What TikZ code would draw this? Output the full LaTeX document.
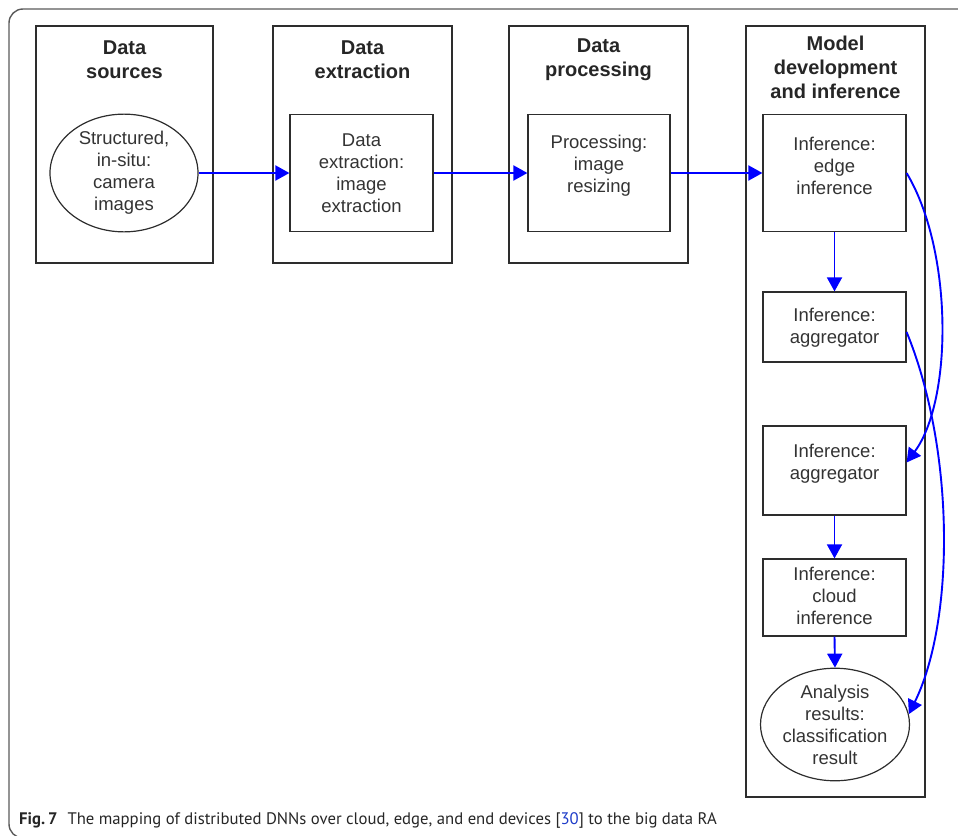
\documentclass[tikz,border=0pt]{standalone}
\usepackage{fontspec}
\setmainfont{Liberation Sans}
\newfontfamily\capfont{PT Sans}
\usetikzlibrary{arrows.meta,shapes.geometric}
\definecolor{linkblue}{RGB}{0,0,255}
\definecolor{framegray}{RGB}{90,90,90}
\definecolor{boxgray}{RGB}{45,45,45}
\definecolor{refblue}{RGB}{30,60,200}
\begin{document}
\begin{tikzpicture}[x=1pt,y=-1pt,
  column/.style={draw=boxgray,line width=1.4pt},
  coltitle/.style={font=\fontsize{20}{24}\selectfont\bfseries,align=center,text=black!85},
  stepbox/.style={draw=boxgray,line width=1.2pt,inner sep=0pt},
  steptext/.style={inner sep=0pt,align=center,font=\fontsize{18.5}{22}\selectfont,text=black!80},
  oval/.style={ellipse,draw=boxgray,line width=1.2pt,inner sep=0pt,align=center,
    font=\fontsize{18.5}{22}\selectfont,text=black!80},
  flow/.style={draw=linkblue,line width=1.9pt,-{Triangle[length=14pt,width=15pt]}}]
\useasboundingbox (0,0) rectangle (958,835);
% outer figure frame
\begin{scope}
  \clip (0,0) rectangle (958,835);
  \draw[framegray,line width=1.4pt,rounded corners=14pt] (970,9) -- (9,9) -- (9,838) -- (120,838);
\end{scope}
% columns
\draw[column] (36,26) rectangle (213,263);
\draw[column] (273,26) rectangle (452,263);
\draw[column] (509,26) rectangle (688,263);
\draw[column] (746,26) rectangle (925,797);
\node[coltitle] (t1) at (124.5,60) {Data\\sources};
\node[coltitle] (t2) at (362.5,60) {Data\\extraction};
\node[coltitle] (t3) at (598.5,60) {Data\\processing};
\node[coltitle] (t4) at (835.5,67) {Model\\development\\and inference};
% steps: boxes, then their texts
\node[oval,minimum width=148pt,minimum height=117pt] (src) at (124,173) {Structured,\\in-situ:\\camera\\images};
\node[stepbox,minimum width=143pt,minimum height=117pt] (ext) at (361.5,173) {};
\node[stepbox,minimum width=142pt,minimum height=117pt] (proc) at (599,173) {};
\node[stepbox,minimum width=143pt,minimum height=117pt] (edge) at (834.5,173) {};
\node[stepbox,minimum width=143pt,minimum height=70pt] (agg1) at (834.5,327) {};
\node[stepbox,minimum width=143pt,minimum height=89pt] (agg2) at (834.5,470.5) {};
\node[stepbox,minimum width=143pt,minimum height=77pt] (cloud) at (834.5,597.5) {};
\node[oval,minimum width=149pt,minimum height=95pt] (res) at (835,724.5) {Analysis\\results:\\classification\\result};
\node[steptext] (ext-t) at (ext.center) {Data\\extraction:\\image\\extraction};
\node[steptext] (proc-t) at ([yshift=7pt]proc.center) {Processing:\\image\\resizing};
\node[steptext] (edge-t) at ([yshift=7pt]edge.center) {Inference:\\edge\\inference};
\node[steptext] (agg1-t) at ([yshift=-1pt]agg1.center) {Inference:\\aggregator};
\node[steptext] (agg2-t) at ([yshift=7pt]agg2.center) {Inference:\\aggregator};
\node[steptext] (cloud-t) at ([yshift=2pt]cloud.center) {Inference:\\cloud\\inference};
% connectors
\draw[flow] (src.east) -- (ext.west);
\draw[flow] (ext.east) -- (proc.west);
\draw[flow] (proc.east) -- (edge.west);
\draw[flow] (edge.south) -- (agg1.north);
\draw[flow] (agg2.south) -- (cloud.north);
\draw[flow] (cloud.south) -- (res.north);
\draw[flow] (edge.east) .. controls (953,250) and (953,400) .. ([yshift=8pt]agg2.east);
\draw[flow] ([yshift=-5pt]agg1.east) .. controls (955,450) and (955,620) .. (res.8);
% caption
\node[anchor=base west,inner sep=0pt,font=\capfont\fontsize{16.7}{20}\selectfont,text=black!85] (cap) at (19,824)
  {\textbf{Fig.\,7}\hspace{0.6em}The mapping of distributed DNNs over cloud, edge, and end devices [{\color{refblue}30}] to the big data RA};
\end{tikzpicture}
\end{document}
